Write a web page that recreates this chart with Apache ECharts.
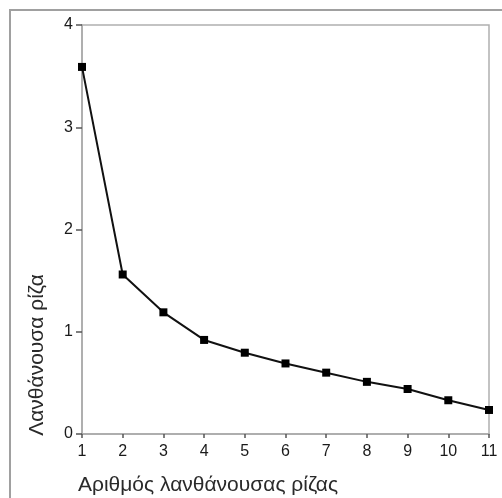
<!DOCTYPE html>
<html>
<head>
<meta charset="utf-8">
<script src="https://cdn.jsdelivr.net/npm/echarts@6/dist/echarts.min.js"></script>
<style>html,body{margin:0;padding:0;background:#fff;}#c{width:502px;height:498px;}</style>
</head>
<body>
<div id="c"></div>
<script>
var rootNumbers = [1, 2, 3, 4, 5, 6, 7, 8, 9, 10, 11];
var eigenvalues = [3.59, 1.56, 1.19, 0.92, 0.795, 0.69, 0.60, 0.51, 0.44, 0.33, 0.235];
var xTitle = 'Αριθμός λανθάνουσας ρίζας';
var yTitle = 'Λανθάνουσα ρίζα';

var chart = echarts.init(document.getElementById('c'), null, {renderer: 'canvas'});
var pts = rootNumbers.map(function (x, i) { return [x, eigenvalues[i]]; });
chart.setOption({
  animation: false,
  backgroundColor: '#fff',
  grid: {left: 82, top: 25, width: 407, height: 409, show: true, borderColor: '#b0b0b0', borderWidth: 1.5, backgroundColor: 'transparent'},
  xAxis: {
    type: 'value', min: 1, max: 11, interval: 1,
    axisLine: {show: true, onZero: false, lineStyle: {color: '#a8a8a8', width: 1.5}},
    axisTick: {show: true, length: 4, lineStyle: {color: '#555', width: 1.5}},
    axisLabel: {color: '#1a1a1a', fontSize: 16, fontFamily: 'Liberation Sans', margin: 10},
    splitLine: {show: false}
  },
  yAxis: {
    type: 'value', min: 0, max: 4, interval: 1,
    axisLine: {show: true, onZero: false, lineStyle: {color: '#a8a8a8', width: 1.5}},
    axisTick: {show: true, length: 6, lineStyle: {color: '#555', width: 1.5}},
    axisLabel: {color: '#1a1a1a', fontSize: 16, fontFamily: 'Liberation Sans', margin: 9},
    splitLine: {show: false}
  },
  graphic: [
    {type: 'rect', shape: {x: 10, y: 10, width: 520, height: 520}, style: {fill: 'none', stroke: '#a0a0a0', lineWidth: 2}, silent: true, z: -1},
    {type: 'text', x: 37, y: 355, rotation: Math.PI / 2, style: {text: yTitle, fontSize: 21, fontFamily: 'Liberation Sans', fill: '#2a2a2a', align: 'center', verticalAlign: 'middle'}},
    {type: 'text', x: 208, y: 485, style: {text: xTitle, fontSize: 21, fontFamily: 'Liberation Sans', fill: '#2a2a2a', align: 'center', verticalAlign: 'middle'}}
  ],
  series: [{
    type: 'line', data: pts,
    symbol: 'rect', symbolSize: 8,
    lineStyle: {color: '#111', width: 2},
    itemStyle: {color: '#000'},
    clip: false
  }]
});
</script>
</body>
</html>
